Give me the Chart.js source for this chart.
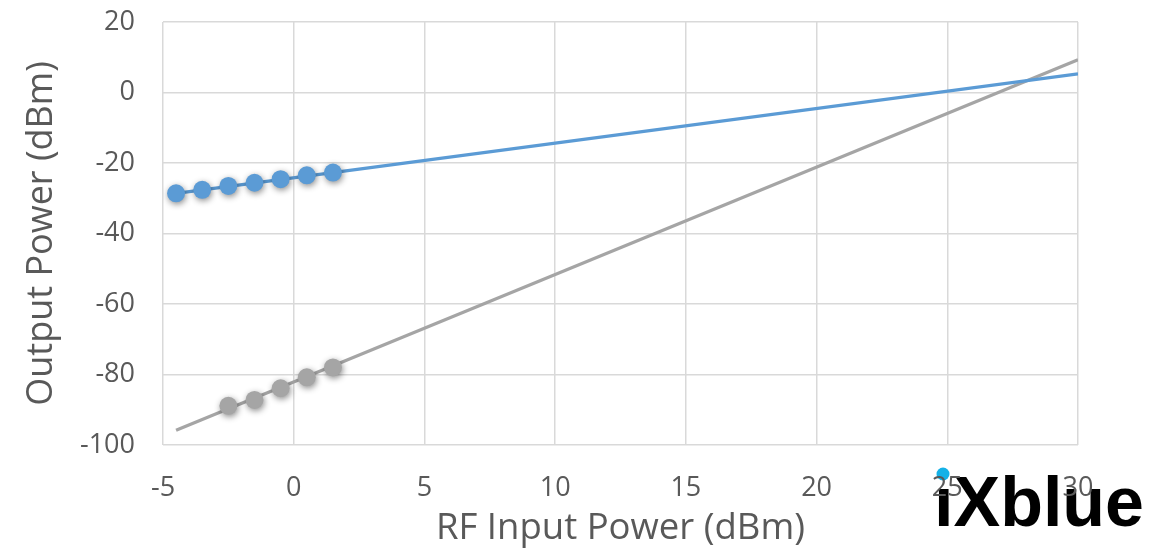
<!DOCTYPE html>
<html>
<head>
<meta charset="utf-8">
<script src="https://cdn.jsdelivr.net/npm/chart.js@4"></script>
<style>
html,body{margin:0;padding:0;background:#fff;}
#wrap{width:1157px;height:553px;position:relative;}
</style>
</head>
<body>
<div id="wrap"><canvas id="c" width="1157" height="553"></canvas></div>
<script>
// Data
const fundX = [-4.5, -3.5, -2.5, -1.5, -0.5, 0.5, 1.5];
const fundY = [-28.6, -27.6, -26.5, -25.6, -24.6, -23.5, -22.7];
const imdX = [-2.5, -1.5, -0.5, 0.5, 1.5];
const imdY = [-88.9, -87.2, -83.9, -80.8, -78.0];
const fundTrendX = [-4.5, 30];
const fundTrendY = [-28.6, 5.3];
const imdTrendX = [-4.5, 30];
const imdTrendY = [-95.8, 9.3];
const xTicks = [-5, 0, 5, 10, 15, 20, 25, 30];
const yTicks = [-100, -80, -60, -40, -20, 0, 20];

const pts = (xs, ys) => xs.map((x, i) => ({x: x, y: ys[i]}));
const BLUE = '#5b9bd5', GRAY = '#a5a5a5';
const FONT = '"Open Sans", sans-serif';

const shadowPlugin = {
  id: 'shadow',
  beforeDatasetDraw(chart, args) {
    const ds = chart.data.datasets[args.index];
    if (ds._shadow) {
      const ctx = chart.ctx;
      ctx.save();
      ctx.shadowColor = 'rgba(0,0,0,0.45)';
      ctx.shadowBlur = 6;
      ctx.shadowOffsetX = 1;
      ctx.shadowOffsetY = 2;
    }
  },
  afterDatasetDraw(chart, args) {
    const ds = chart.data.datasets[args.index];
    if (ds._shadow) chart.ctx.restore();
  }
};

const logoPlugin = {
  id: 'logo',
  beforeDraw(chart) {
    const ctx = chart.ctx;
    ctx.save();
    ctx.fillStyle = '#000';
    ctx.font = 'bold 70px "Liberation Sans", Arial, sans-serif';
    ctx.textBaseline = 'alphabetic';
    ctx.textAlign = 'left';
    ctx.fillText('\u0131Xblue', 934, 526);
    ctx.fillStyle = '#14b1e7';
    ctx.beginPath();
    ctx.arc(943, 474, 6.5, 0, Math.PI * 2);
    ctx.fill();
    ctx.restore();
  }
};

new Chart(document.getElementById('c'), {
  type: 'scatter',
  data: {
    datasets: [
      {
        label: 'Fundamental trend',
        data: pts(fundTrendX, fundTrendY),
        showLine: true,
        borderColor: BLUE,
        borderWidth: 3.2,
        pointRadius: 0,
        order: 3
      },
      {
        label: 'IMD3 trend',
        data: pts(imdTrendX, imdTrendY),
        showLine: true,
        borderColor: GRAY,
        borderWidth: 3.2,
        pointRadius: 0,
        order: 4
      },
      {
        label: 'Fundamental',
        data: pts(fundX, fundY),
        showLine: false,
        backgroundColor: BLUE,
        borderColor: BLUE,
        pointRadius: 9,
        pointBorderWidth: 0,
        _shadow: true,
        order: 1
      },
      {
        label: 'IMD3',
        data: pts(imdX, imdY),
        showLine: false,
        backgroundColor: GRAY,
        borderColor: GRAY,
        pointRadius: 9,
        pointBorderWidth: 0,
        _shadow: true,
        order: 2
      }
    ]
  },
  options: {
    responsive: false,
    animation: false,
    events: [],
    layout: { padding: { top: 22, right: 79, left: 0, bottom: 0 } },
    plugins: { legend: { display: false }, tooltip: { enabled: false } },
    scales: {
      x: {
        type: 'linear',
        min: -5, max: 30,
        afterBuildTicks(s) { s.ticks = xTicks.map(v => ({value: v})); },
        afterFit(s) { s.height = 108; s.paddingLeft = 0; s.paddingRight = 0; },
        grid: { color: '#d9d9d9', lineWidth: 1.5, drawTicks: false },
        border: { display: false },
        ticks: { color: '#595959', font: { family: FONT, size: 27 }, padding: 27, maxRotation: 0 },
        title: { display: true, text: 'RF Input Power (dBm)', color: '#595959',
                 font: { family: FONT, size: 36.5 }, padding: { top: 0, bottom: 2 } }
      },
      y: {
        type: 'linear',
        min: -100, max: 20,
        afterBuildTicks(s) { s.ticks = yTicks.map(v => ({value: v})); },
        afterFit(s) { s.width = 163; s.paddingTop = 0; s.paddingBottom = 0; },
        grid: { color: '#d9d9d9', lineWidth: 1.5, drawTicks: false },
        border: { display: false },
        ticks: { color: '#595959', font: { family: FONT, size: 27 }, padding: 28 },
        title: { display: true, text: 'Output Power (dBm)', color: '#595959',
                 font: { family: FONT, size: 36 }, padding: { top: 20, bottom: 0 } }
      }
    }
  },
  plugins: [shadowPlugin, logoPlugin]
});
</script>
</body>
</html>
